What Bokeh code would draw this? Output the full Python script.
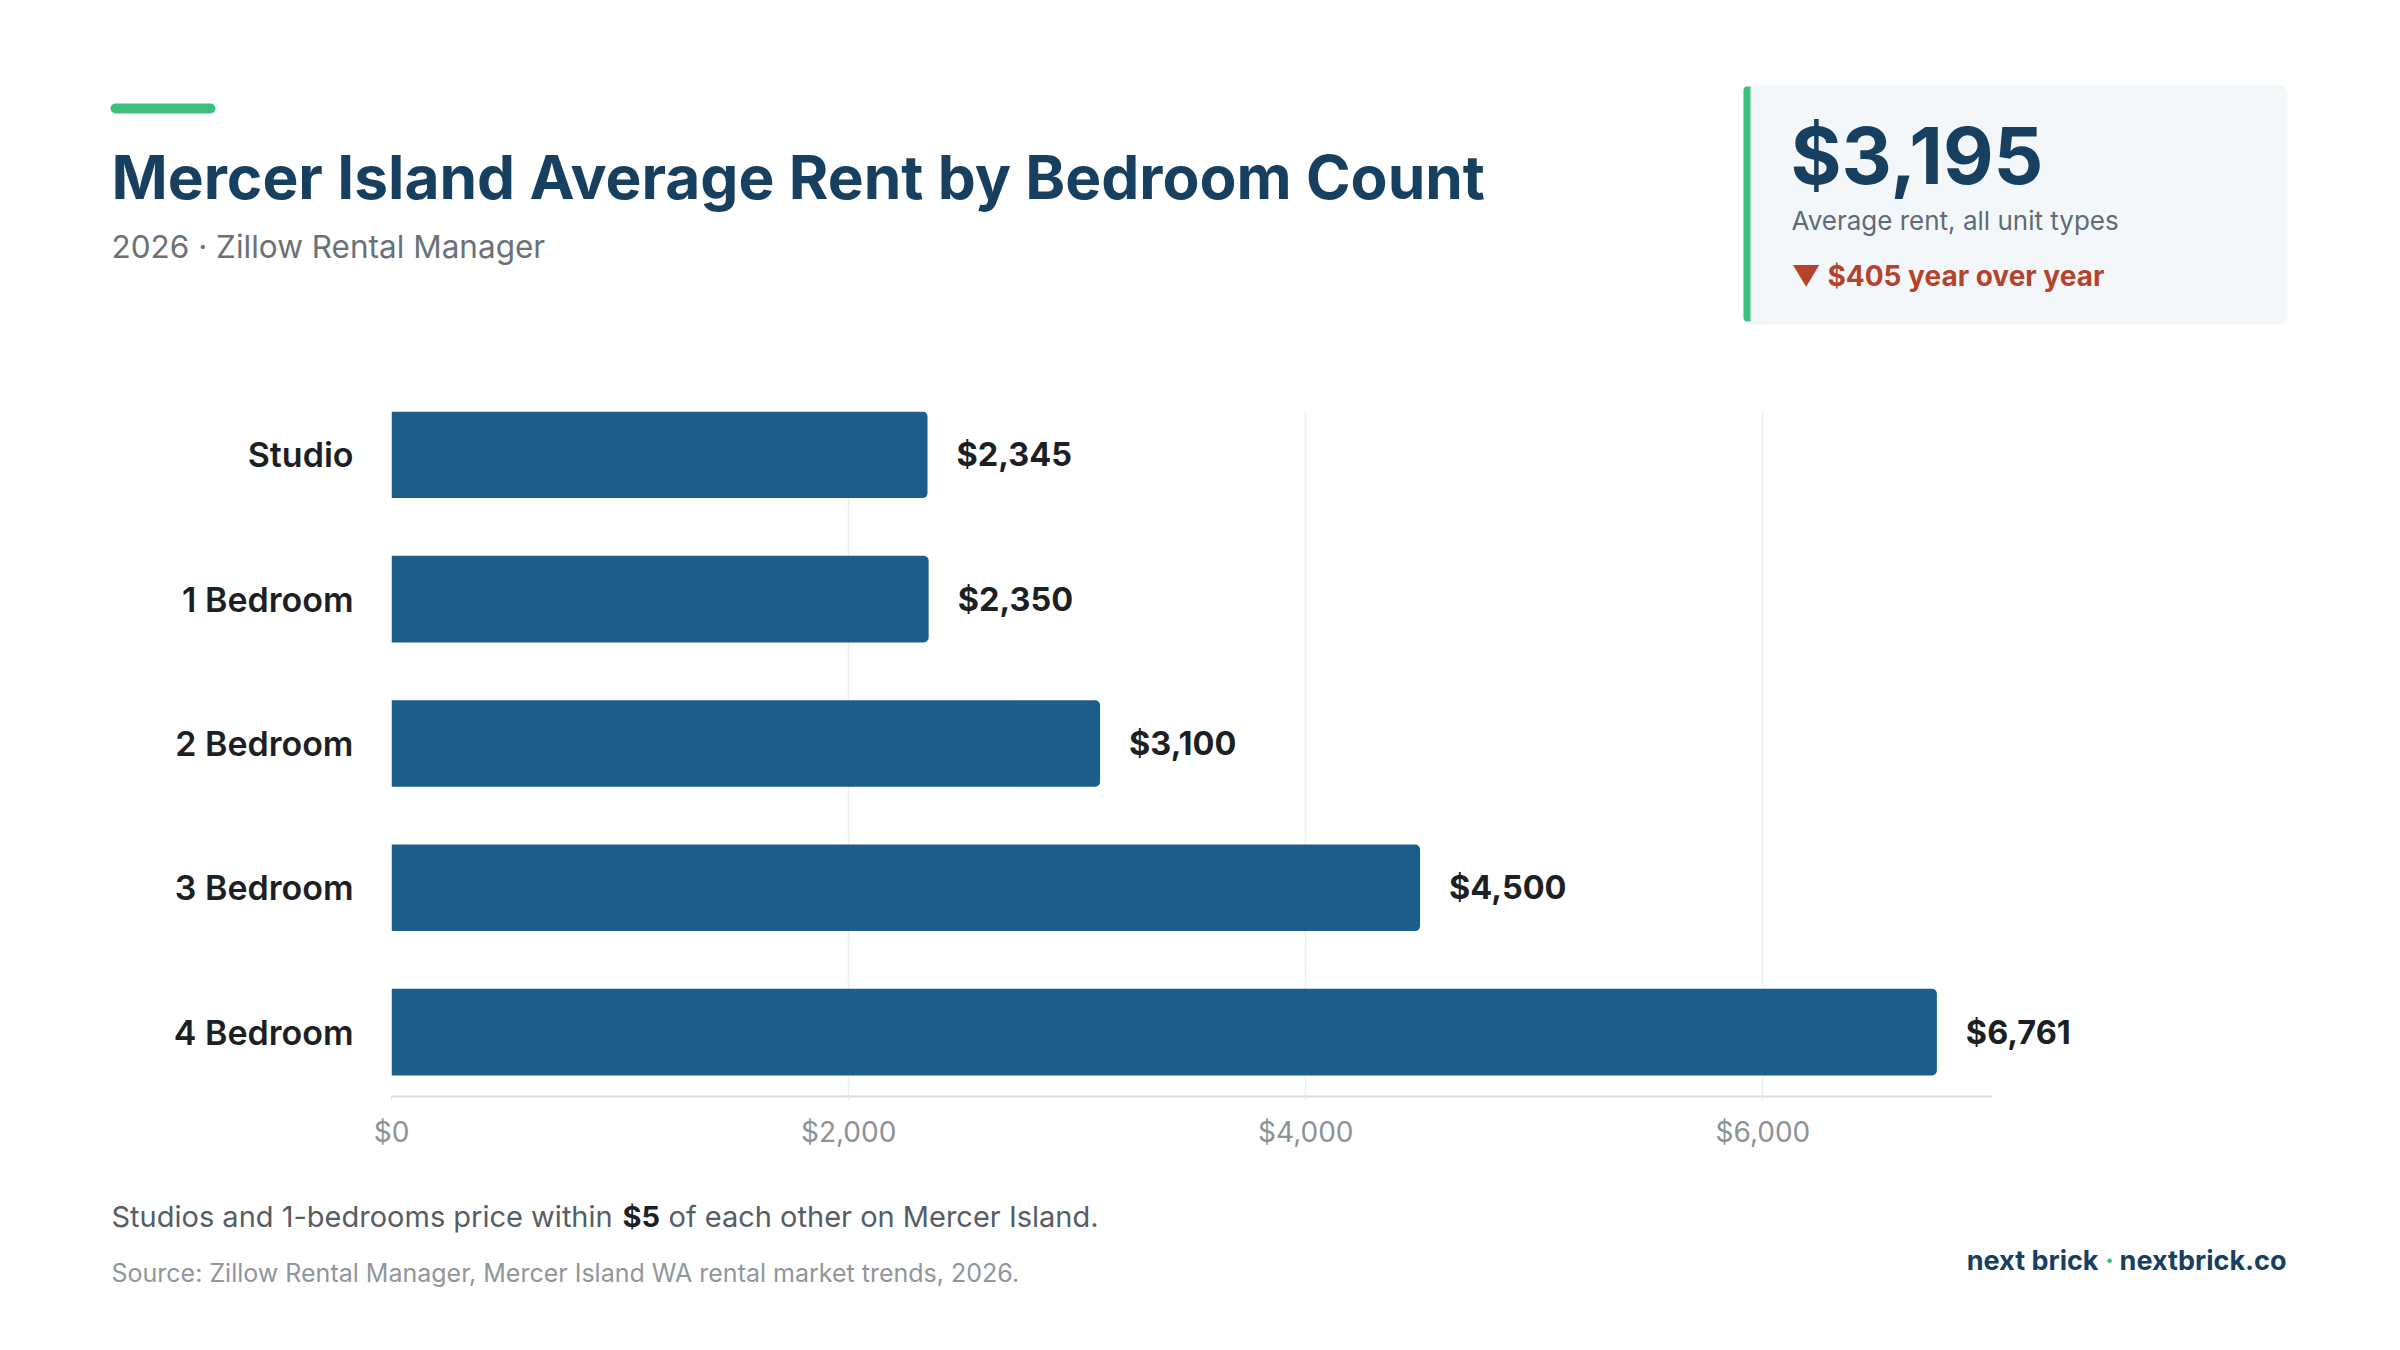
from bokeh.plotting import figure
from bokeh.models import Range1d, FixedTicker, NumeralTickFormatter, ColumnDataSource
from bokeh.layouts import column
from bokeh.embed import file_html
from bokeh.resources import INLINE
from bokeh.core.properties import value

# ---------------- data ----------------
categories = ["Studio", "1 Bedroom", "2 Bedroom", "3 Bedroom", "4 Bedroom"]
rents = [2345, 2350, 3100, 4500, 6761]
x_ticks = [0, 2000, 4000, 6000]
x_axis_max = 7000
kpi_value = 3195
kpi_change = -405

title = "Mercer Island Average Rent by Bedroom Count"
subtitle = "2026 \u00b7 Zillow Rental Manager"
kpi_caption = "Average rent, all unit types"
note_parts = ["Studios and 1-bedrooms price within", "$5", "of each other on Mercer Island."]
source_text = "Source: Zillow Rental Manager, Mercer Island WA rental market trends, 2026."
brand_parts = ["next brick", "\u00b7", "nextbrick.co"]

# ---------------- style ----------------
FONT = value("Inter")
NAVY = "#173f5f"
BAR = "#1c5d8a"
INK = "#1c1f23"
GREEN = "#3cbf7a"
W = 2384
ORIGIN = 2                       # page position of the layout's top-left corner
H_HDR, H_CH, H_FTR = 372, 800, 162
Y_CH = ORIGIN + H_HDR            # page y of chart figure top
Y_FTR = Y_CH + H_CH              # page y of footer figure top


def blank(y0, h):
    # coordinates inside are page pixels (y downwards)
    f = figure(width=W, height=h, x_range=Range1d(ORIGIN, ORIGIN + W),
               y_range=Range1d(y0 + h, y0),
               output_backend="svg", toolbar_location=None, min_border=0,
               x_axis_location=None, y_axis_location=None, frame_align=False)
    f.grid.visible = False
    f.outline_line_color = None
    f.background_fill_color = "white"
    f.border_fill_color = "white"
    return f


def txt(f, x, y, s, size, color, bold=False, align="left"):
    f.text(x=[x], y=[y], text=[s], text_font=FONT, text_font_size=f"{size}px",
           text_font_style="bold" if bold else "normal", text_color=color,
           text_align=align, text_baseline="middle")


# ---------------- header ----------------
hdr = blank(ORIGIN, H_HDR)
hdr.quad(left=112, right=217, top=105, bottom=115, fill_color=GREEN, line_color=None, border_radius=5)
txt(hdr, 113, 178, title, 60.4, NAVY, bold=True)
txt(hdr, 113, 248, subtitle, 31.5, "#6b7178")

# KPI card
hdr.quad(left=1744, right=2289, top=87, bottom=326, fill_color="#e9edf0", fill_alpha=0.5,
         line_color=None, border_radius=8)
hdr.quad(left=1745, right=2286, top=88, bottom=323, fill_color="#f4f7f9", line_color=None, border_radius=6)
hdr.quad(left=1745, right=1752, top=88, bottom=323, fill_color=GREEN, line_color=None,
         border_radius=(4, 0, 0, 4))
txt(hdr, 1792, 157, f"${kpi_value:,}", 78, NAVY, bold=True)
txt(hdr, 1793, 222, kpi_caption, 26, "#5f6b75")
arrow = "\u25bc" if kpi_change < 0 else "\u25b2"
txt(hdr, 1793, 277, f"{arrow} ${abs(kpi_change):,} year over year", 28, "#b5432c", bold=True)

# ---------------- chart ----------------
frame_left, frame_axis_right = 393, 1993      # page px of $0 and of axis end
frame_top, frame_bottom = 413, 1098
frame_w = W - (frame_left - ORIGIN)
x_end = x_axis_max * frame_w / (frame_axis_right - frame_left)
bar_h = 0.6
n = len(categories)
ch = figure(width=W, height=H_CH, x_range=Range1d(0, x_end),
            y_range=Range1d(n - 1 + bar_h / 2 + 0.146, -bar_h / 2),
            output_backend="svg", toolbar_location=None, frame_align=False,
            min_border_left=frame_left - ORIGIN, min_border_right=0,
            min_border_top=frame_top - Y_CH, min_border_bottom=Y_CH + H_CH - frame_bottom)
ch.outline_line_color = None
ch.background_fill_color = "white"
ch.border_fill_color = "white"

ys = list(range(n))
src = ColumnDataSource(dict(y=ys, rent=rents, cat=categories,
                            label=[f"${v:,}" for v in rents]))
ch.hbar(y="y", left=0, right="rent", height=bar_h, source=src,
        fill_color=BAR, line_color=None, border_radius=(0, 5, 5, 0))
ch.text(x="rent", y="y", text="label", source=src, x_offset=29,
        text_baseline="middle", text_align="left", text_font=FONT,
        text_font_size="32.5px", text_font_style="bold", text_color=INK)

ch.xgrid.ticker = FixedTicker(ticks=x_ticks)
ch.xgrid.grid_line_color = "#eceef0"
ch.xgrid.grid_line_width = 1.5
ch.ygrid.visible = False

xa = ch.xaxis[0]
xa.ticker = FixedTicker(ticks=x_ticks)
xa.formatter = NumeralTickFormatter(format="$0,0")
xa.bounds = (0, x_axis_max)
xa.axis_line_color = "#d8dbde"
xa.axis_line_width = 2
xa.major_tick_in = 0
xa.major_tick_out = 4
xa.major_tick_line_color = "#e3e6e9"
xa.minor_tick_line_color = None
xa.major_label_standoff = 14
xa.major_label_text_font = "Inter"
xa.major_label_text_font_size = "28px"
xa.major_label_text_color = "#8b9298"

ya = ch.yaxis[0]
ya.ticker = FixedTicker(ticks=ys)
ya.major_label_overrides = {i: c for i, c in enumerate(categories)}
ya.axis_line_color = None
ya.major_tick_line_color = None
ya.minor_tick_line_color = None
ya.major_tick_in = 0
ya.major_tick_out = 0
ya.major_label_standoff = 38
ya.major_label_text_font = "Inter SemiBold"
ya.major_label_text_font_size = "34px"
ya.major_label_text_font_style = "normal"
ya.major_label_text_color = INK

# ---------------- footer ----------------
ftr = blank(Y_FTR, H_FTR)
txt(ftr, 113, 1218, note_parts[0], 29, "#565d64")
txt(ftr, 624, 1218, note_parts[1], 29, INK, bold=True)
txt(ftr, 670, 1218, note_parts[2], 29, "#565d64")
txt(ftr, 113, 1274, source_text, 25, "#8f969c")
txt(ftr, 2100, 1262, brand_parts[0], 27, NAVY, bold=True, align="right")
txt(ftr, 2111, 1262, brand_parts[1], 27, GREEN, bold=True, align="center")
txt(ftr, 2288, 1262, brand_parts[2], 27, NAVY, bold=True, align="right")

layout = column(hdr, ch, ftr, spacing=0)
open("out.html", "w").write(file_html(layout, INLINE))
